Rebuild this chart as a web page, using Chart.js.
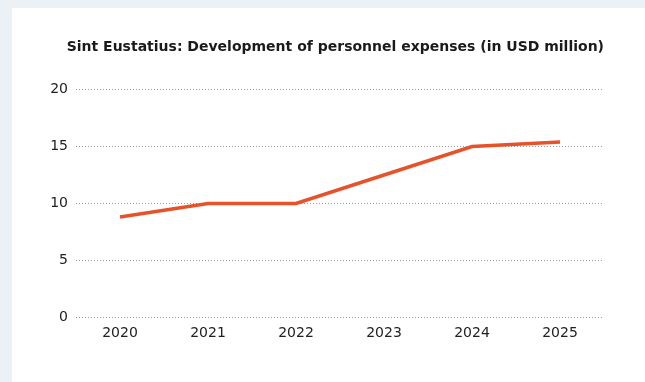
<!DOCTYPE html>
<html>
<head>
<meta charset="utf-8">
<script src="https://cdn.jsdelivr.net/npm/chart.js@4"></script>
<style>
  html, body { margin: 0; padding: 0; }
  body { width: 645px; height: 382px; background: #ebf1f4; position: relative; overflow: hidden; }
  .card { position: absolute; left: 12px; top: 8px; width: 633px; height: 374px; background: #fff; }
</style>
</head>
<body>
<div class="card"><canvas id="expensesChart" width="633" height="374"></canvas></div>
<script>
// Personnel expenses, Sint Eustatius (USD million)
const years = ['2020', '2021', '2022', '2023', '2024', '2025'];
const expenses = [8.8, 10, 10, 12.5, 15, 15.4];
const yTicks = [0, 5, 10, 15, 20];

const ctx = document.getElementById('expensesChart');
new Chart(ctx, {
    type: 'line',
    data: {
        labels: years,
        datasets: [{
            label: 'Personnel expenses',
            data: expenses,
            borderColor: '#e8522a',
            borderWidth: 3.5,
            pointRadius: 0,
            tension: 0,
            fill: false
        }]
    },
    options: {
        responsive: false,
        animation: false,
        layout: { padding: { left: 20, right: 41, top: 0, bottom: 35 } },
        plugins: {
            legend: { display: false },
            tooltip: { enabled: false },
            title: {
                display: true,
                text: 'Sint Eustatius: Development of personnel expenses (in USD million)',
                align: 'end',
                color: '#1a1a1a',
                font: { family: 'DejaVu Sans', size: 14, weight: 'bold' },
                padding: { top: 31, bottom: 34 }
            }
        },
        scales: {
            x: {
                offset: true,
                grid: { display: false, drawTicks: false },
                border: { display: false },
                ticks: {
                    color: '#222',
                    padding: 8,
                    font: { family: 'DejaVu Sans', size: 14 }
                },
                afterFit: (scale) => { scale.height = 30; }
            },
            y: {
                min: 0,
                max: 20,
                afterBuildTicks: (scale) => { scale.ticks = yTicks.map(v => ({ value: v })); },
                grid: {
                    color: '#9a9a9a',
                    lineWidth: 1,
                    drawTicks: false
                },
                border: { display: false, dash: [1, 2] },
                ticks: {
                    color: '#222',
                    padding: 8,
                    font: { family: 'DejaVu Sans', size: 14 }
                },
                afterFit: (scale) => { scale.width = 44; }
            }
        }
    }
});
</script>
</body>
</html>
